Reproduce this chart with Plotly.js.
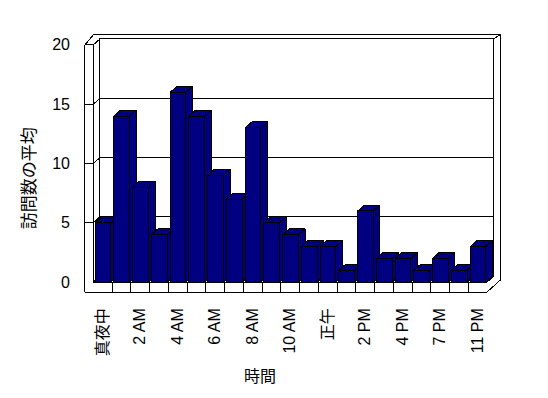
<!DOCTYPE html>
<html>
<head>
<meta charset="utf-8">
<script src="https://cdn.plot.ly/plotly-3.0.1.min.js"></script>
<style>
html,body{margin:0;padding:0;background:#fff;}
#chart path{shape-rendering:crispEdges;}
</style>
</head>
<body>
<div id="chart" style="width:548px;height:398px;"></div>
<script>
// ---- data ----
const categories = ["真夜中","1 AM","2 AM","3 AM","4 AM","5 AM","6 AM","7 AM","8 AM","9 AM","10 AM","11 AM","正午","1 PM","2 PM","3 PM","4 PM","5 PM","7 PM","9 PM","11 PM"];
const values = [5,14,8,4,16,14,9,7,13,5,4,3,3,1,6,2,2,1,2,1,3];
const yTicks = [0,5,10,15,20];
const xTitle = "時間";
const yTitle = "訪問数の平均";

// ---- 3D look (in axis units) ----
const DX = 0.35, DY = 0.5;         // depth offset
const BL = -0.4, BR = 0.44;        // bar front face extent around category index
const WALL = 0.45, FLOOR = 0.84;   // wall / floor thickness
const YMAX = 20;
const N = categories.length;
const X0 = -0.5, X1 = N - 0.5;
const NAVY = "#000080";

const traces = [];

// box silhouette
traces.push({
  type: "scatter", mode: "lines", hoverinfo: "skip", showlegend: false,
  x: [X0 - WALL, X1, X1 + 2*DX, X1 + 2*DX, X0, X0 - WALL, X0 - WALL],
  y: [-FLOOR, -FLOOR, -FLOOR + 2*DY, YMAX + DY + 0.35, YMAX + DY + 0.35, YMAX, -FLOOR],
  fill: "toself", fillcolor: "#ffffff", line: {color: "#000", width: 1}
});

// box interior lines
const lx = [], ly = [];
function seg(pts){ pts.forEach(p => { lx.push(p[0]); ly.push(p[1]); }); lx.push(null); ly.push(null); }
seg([[X0 - WALL, YMAX], [X0, YMAX], [X0 + DX, YMAX + DY]]);
seg([[X0, YMAX], [X0, 0], [X1, 0], [X1 + DX, DY]]);
seg([[X0 + DX, DY], [X0 + DX, YMAX + DY], [X1 + DX, YMAX + DY], [X1 + DX, DY], [X0 + DX, DY]]);
seg([[X1 + DX, YMAX + DY], [X1 + 2*DX, YMAX + DY + 0.35]]);
seg([[X0, 0], [X0 + DX, DY]]);
yTicks.filter(v => v > 0 && v < YMAX).forEach(v => {
  seg([[X0 - WALL, v], [X0, v], [X0 + DX, v + DY], [X1 + DX, v + DY]]);
});
for (let i = 0; i < N - 1; i++) seg([[i + 0.5, -FLOOR], [i + 0.5, 0]]);
traces.push({
  type: "scatter", mode: "lines", hoverinfo: "skip", showlegend: false,
  x: lx, y: ly, line: {color: "#000", width: 1}
});

// bars: front, top, side faces
values.forEach((v, i) => {
  const a = i + BL, b = i + BR;
  const x = [a, b, b, a, a, null,
             a, b, b + DX, a + DX, a, null,
             b, b + DX, b + DX, b, b];
  const y = [0, 0, v, v, 0, null,
             v, v, v + DY, v + DY, v, null,
             0, DY, v + DY, v, 0];
  traces.push({
    type: "scatter", mode: "lines", name: categories[i], showlegend: false,
    x: x, y: y, fill: "toself", fillcolor: NAVY,
    line: {color: "#000", width: 1}, hoverinfo: "skip"
  });
});

const tickIdx = categories.map((c, i) => i).filter(i => i % 2 === 0);

const layout = {
  width: 548, height: 398,
  margin: {l: 84, r: 46, t: 33, b: 104, pad: 0, autoexpand: false},
  paper_bgcolor: "#fff", plot_bgcolor: "#fff",
  font: {family: 'Liberation Sans, "Noto Sans CJK JP", sans-serif', size: 16, color: "#000"},
  showlegend: false,
  xaxis: {
    range: [-1.0, 21.3], showgrid: false, zeroline: false, showline: false,
    ticks: "", tickvals: tickIdx, ticktext: tickIdx.map(i => categories[i]),
    tickangle: -90, ticklabelstandoff: 10, fixedrange: true
  },
  yaxis: {
    range: [-1.0, 21.0], showgrid: false, zeroline: false, showline: false,
    ticks: "", tickvals: yTicks, ticktext: yTicks.map(String),
    ticklabelstandoff: 13, fixedrange: true
  },
  annotations: [
    {text: xTitle, xref: "paper", yref: "paper", x: 0.421, y: -0.31,
     xanchor: "center", yanchor: "middle", showarrow: false,
     font: {family: '"Noto Sans CJK JP", sans-serif', size: 16, color: "#000"}},
    {text: yTitle, xref: "paper", yref: "paper", x: -0.136, y: 0.444,
     xanchor: "center", yanchor: "middle", showarrow: false, textangle: -90,
     font: {family: '"Noto Sans CJK JP", sans-serif', size: 17, color: "#000"}}
  ]
};

Plotly.newPlot("chart", traces, layout, {staticPlot: true, displayModeBar: false});
</script>
</body>
</html>
